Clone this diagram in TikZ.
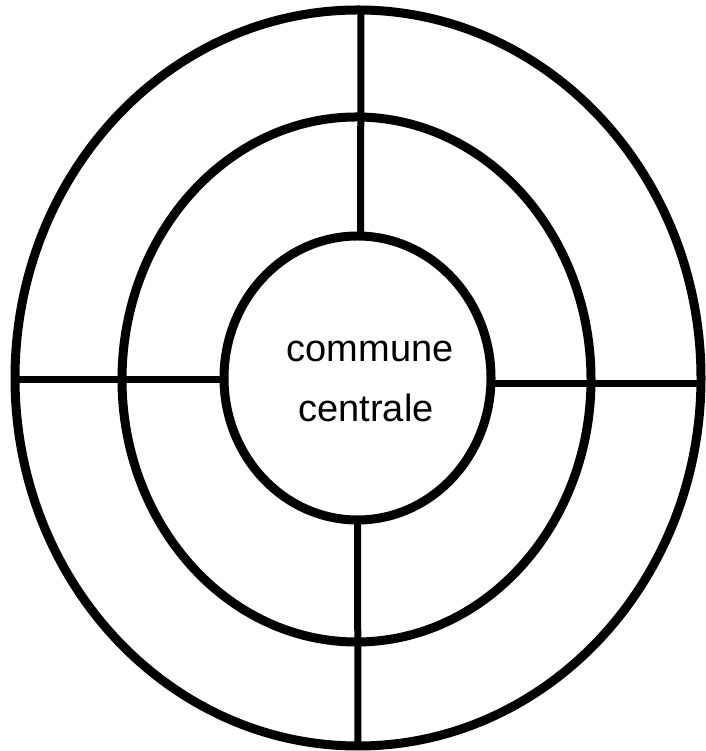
\documentclass[tikz,border=0pt]{standalone}
\usepackage{fontspec}
\setmainfont{Liberation Sans}
\usetikzlibrary{shapes.geometric}

\begin{document}
\begin{tikzpicture}[
    x=1pt, y=1pt,
    ring/.style={draw, ellipse, line width=9pt, inner sep=0pt, outer sep=0pt},
    spoke/.style={line width=7pt},
    word/.style={anchor=base, inner sep=0pt, font=\fontsize{38}{46}\selectfont}
]
\useasboundingbox (0,0) rectangle (705,751);

\node[ring, minimum width=686pt, minimum height=736pt] (outer) at (358,373) {};
\node[ring, minimum width=469pt, minimum height=525pt] (middle) at (356.5,371.5) {};
\node[ring, minimum width=267pt, minimum height=284pt] (inner) at (357.5,373) {};

\node[word] (commune) at (370,389) {commune};
\node[word] (centrale) at (366,329) {centrale};

% spokes between the inner circle and the outer ring
\draw[spoke] ([xshift=3pt]inner.north) -- ([xshift=3pt]outer.north);
\draw[spoke] ([yshift=-6pt]inner.east) -- ([yshift=-6pt]outer.east);
\draw[spoke] (inner.south) -- (outer.south);
\draw[spoke] ([yshift=-2pt]inner.west) -- ([yshift=-2pt]outer.west);
\end{tikzpicture}
\end{document}
